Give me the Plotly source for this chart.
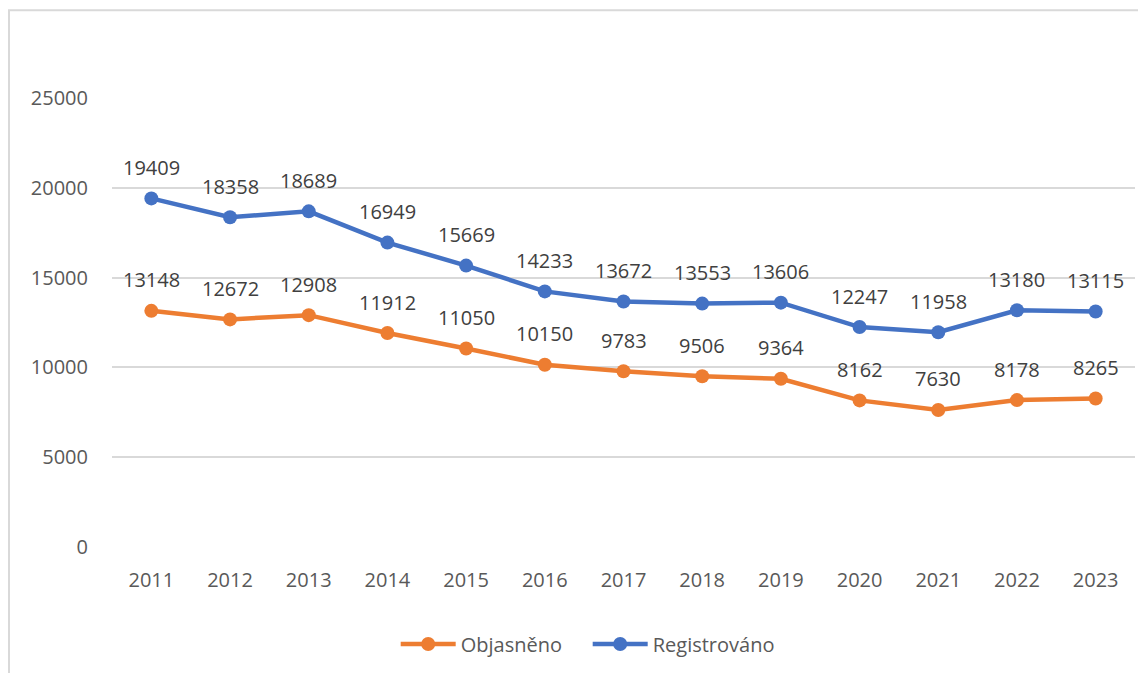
import plotly.graph_objects as go

# values
years = ["2011", "2012", "2013", "2014", "2015", "2016", "2017",
         "2018", "2019", "2020", "2021", "2022", "2023"]
objasneno = [13148, 12672, 12908, 11912, 11050, 10150, 9783,
             9506, 9364, 8162, 7630, 8178, 8265]
registrovano = [19409, 18358, 18689, 16949, 15669, 14233, 13672,
                13553, 13606, 12247, 11958, 13180, 13115]
y_ticks = [0, 5000, 10000, 15000, 20000, 25000]

FONT = "Open Sans"
TXT = "#404040"
AX = "#595959"

fig = go.Figure()

# series lines with markers
fig.add_trace(go.Scatter(x=years, y=objasneno, name="Objasněno",
                         mode="lines+markers",
                         line=dict(color="#ED7D31", width=4.5),
                         marker=dict(size=14, color="#ED7D31")))
fig.add_trace(go.Scatter(x=years, y=registrovano, name="Registrováno",
                         mode="lines+markers",
                         line=dict(color="#4472C4", width=4.5),
                         marker=dict(size=14, color="#4472C4")))

# data labels above points (category index positions)
for vals in (objasneno, registrovano):
    for i, v in enumerate(vals):
        fig.add_annotation(x=i, y=v, text=str(v), showarrow=False,
                           yshift=31, font=dict(family=FONT, size=20, color=TXT))

# light chart border (right/bottom edges cut off in the original)
fig.add_shape(type="rect", xref="paper", yref="paper",
              x0=-0.1007, x1=1.03, y0=-0.3, y1=1.1956,
              line=dict(color="#D9D9D9", width=2))

fig.update_xaxes(type="category", range=[-0.5, 12.5], showgrid=False,
                 showline=False, ticks="outside", ticklen=15,
                 tickcolor="rgba(0,0,0,0)",
                 tickfont=dict(family=FONT, size=20, color=AX))
fig.update_yaxes(range=[0, 25000], tickvals=y_ticks, tickformat="d",
                 showgrid=True, gridcolor="#D9D9D9", gridwidth=1.5,
                 zeroline=False, showline=False,
                 ticks="outside", ticklen=19, tickcolor="rgba(0,0,0,0)",
                 tickfont=dict(family=FONT, size=20, color=AX))

# page body adds an 8px offset, so size and margins are reduced by 8
fig.update_layout(width=1138, height=665,
                  margin=dict(l=104, r=11, t=90, b=125),
                  plot_bgcolor="white", paper_bgcolor="white",
                  font=dict(family=FONT, color=AX),
                  showlegend=True,
                  legend=dict(orientation="h", x=0.465, xanchor="center",
                              y=-0.17, yanchor="top",
                              itemwidth=55, entrywidth=122,
                              font=dict(family=FONT, size=20, color=AX)))

fig.write_html("out.html")
